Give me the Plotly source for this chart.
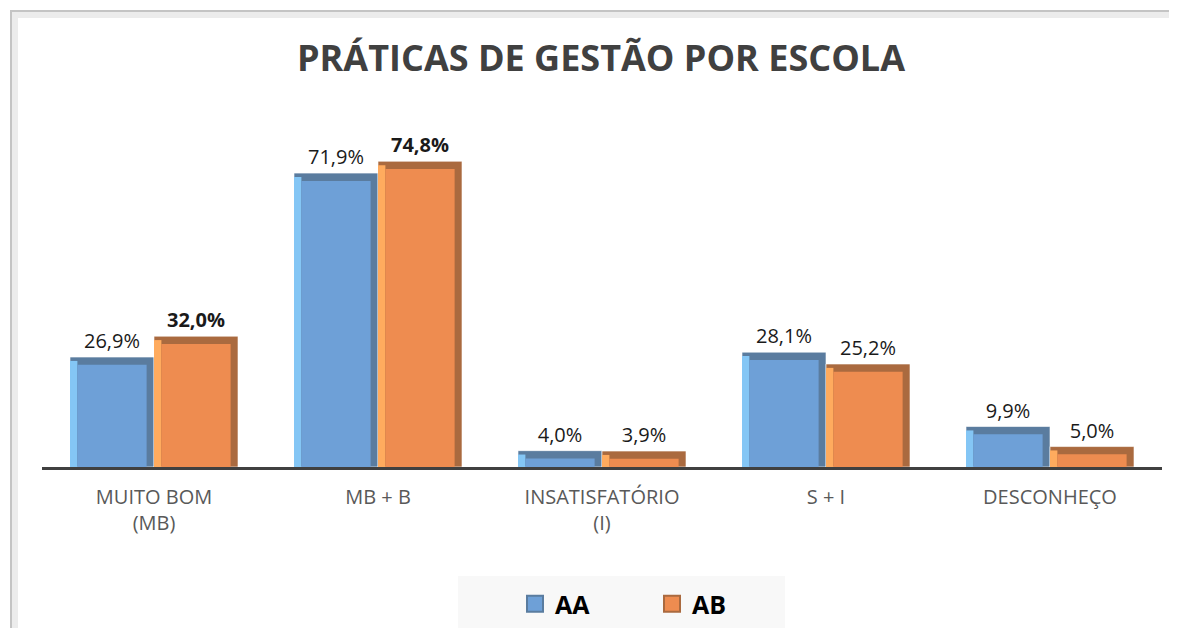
import plotly.graph_objects as go

categories = ["MUITO BOM<br>(MB)", "MB + B", "INSATISFATÓRIO<br>(I)", "S + I", "DESCONHEÇO"]
series_names = ["AA", "AB"]
aa_values = [26.9, 71.9, 4.0, 28.1, 9.9]
ab_values = [32.0, 74.8, 3.9, 25.2, 5.0]
aa_bold = [False, False, False, False, False]
ab_bold = [True, True, False, False, False]

# the page body has an 8px default margin; size/position the figure to compensate
OFF = 8
W, H = 1177 - OFF, 628 - OFF
ML, MR, MT, MB = 42 - OFF, 15, 140 - OFF, 161
PW, PH = W - ML - MR, H - MT - MB
YMAX = 80

def px_x(p):
    return (p - OFF - ML) / PW

def px_y(p):
    return (H - MB - (p - OFF)) / PH

def fmt(v, b):
    s = f"{v:.1f}".replace(".", ",") + "%"
    return f"<b>{s}</b>" if b else s

styles = {
    "AA": dict(dark="#5a7c9f", light="#84c6f5", face="#6ea0d7"),
    "AB": dict(dark="#aa6a3f", light="#ffab5e", face="#ee8c50"),
}

half = 0.375
bev_x = 0.033
bev_y = 1.9

fig = go.Figure()
for name, vals, bolds, off in [("AA", aa_values, aa_bold, -half), ("AB", ab_values, ab_bold, 0.0)]:
    st = styles[name]
    fig.add_trace(go.Bar(
        x=categories, y=vals, name=name, offset=off, width=half,
        marker=dict(color=st["dark"], line=dict(color="rgba(255,255,255,0.6)", width=1)),
        text=[fmt(v, b) for v, b in zip(vals, bolds)], textposition="outside",
        textfont=dict(family="Open Sans", size=20, color="#1a1a1a"),
        cliponaxis=False, showlegend=False, hoverinfo="skip",
    ))
    fig.add_trace(go.Bar(
        x=categories, y=[max(v - bev_y * 0.5, 0) for v in vals], offset=off, width=bev_x,
        marker=dict(color=st["light"], line=dict(width=0)),
        showlegend=False, hoverinfo="skip",
    ))
    fig.add_trace(go.Bar(
        x=categories, y=[max(v - bev_y, 0) for v in vals], offset=off + bev_x, width=half - 2 * bev_x,
        marker=dict(color=st["face"], line=dict(width=0)),
        showlegend=False, hoverinfo="skip",
    ))
    fig.add_trace(go.Scatter(
        x=[None], y=[None], mode="markers", name=name,
        marker=dict(symbol="square", size=16, color=st["face"], line=dict(color=st["dark"], width=2)),
        showlegend=True, hoverinfo="skip",
    ))

shapes = [
    dict(type="rect", xref="paper", yref="paper", layer="below",
         x0=px_x(458), x1=px_x(785), y0=px_y(640), y1=px_y(576),
         fillcolor="#f8f8f8", line=dict(width=0)),
    dict(type="rect", xref="paper", yref="paper", layer="below",
         x0=px_x(15), x1=px_x(1195), y0=px_y(650), y1=px_y(15),
         fillcolor="rgba(0,0,0,0)", line=dict(color="#ececec", width=6)),
    dict(type="rect", xref="paper", yref="paper", layer="below",
         x0=px_x(11), x1=px_x(1190), y0=px_y(645), y1=px_y(11),
         fillcolor="rgba(0,0,0,0)", line=dict(color="#c4c4c4", width=2)),
]

fig.update_layout(
    width=W, height=H,
    margin=dict(l=ML, r=MR, t=MT, b=MB, autoexpand=False),
    paper_bgcolor="white", plot_bgcolor="white",
    barmode="overlay",
    title=dict(text="<b>PRÁTICAS DE GESTÃO POR ESCOLA</b>", x=(601 - OFF) / W, xanchor="center",
               y=1 - (58 - OFF) / H, yanchor="middle",
               font=dict(family="Open Sans", size=36, color="#404040")),
    xaxis=dict(showline=True, linecolor="#404040", linewidth=3, ticks="",
               range=[-0.5, len(categories) - 0.5], automargin=False,
               showgrid=False, tickfont=dict(family="Open Sans", size=20, color="#595959"),
               ticklabelstandoff=10),
    yaxis=dict(visible=False, range=[0, YMAX], automargin=False),
    legend=dict(orientation="h", x=px_x(652), xanchor="center", y=px_y(581), yanchor="top",
                bgcolor="rgba(0,0,0,0)", entrywidth=92,
                font=dict(family="Open Sans", size=25, color="black", weight="bold")),
    shapes=shapes,
    bargap=0.25,
)

fig.write_html("out.html")
